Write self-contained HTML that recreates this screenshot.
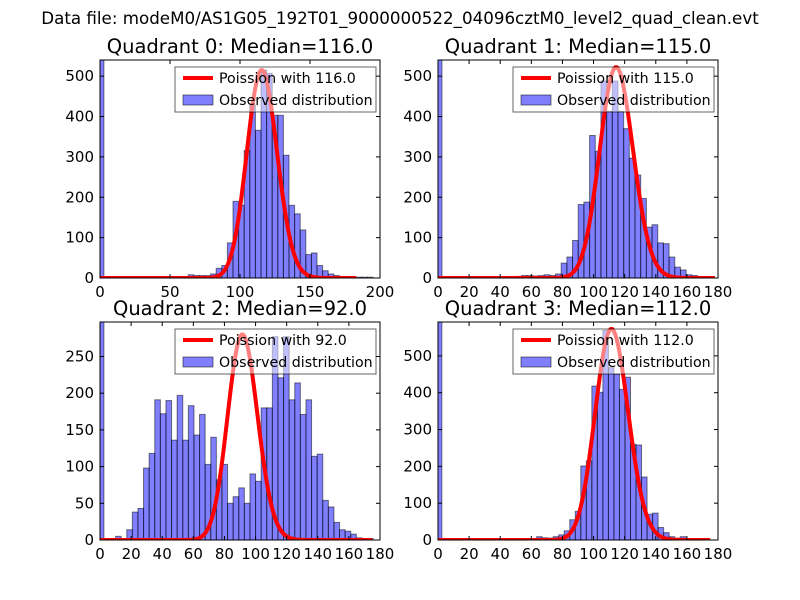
<!DOCTYPE html>
<html><head><meta charset="utf-8">
<style>
body{margin:0;background:#fff;}
svg{display:block;font-family:"DejaVu Sans","Liberation Sans",sans-serif;}
</style></head>
<body>
<svg id="fig" width="800" height="600" viewBox="0 0 800 600" xmlns="http://www.w3.org/2000/svg">
<rect width="800" height="600" fill="#fff"/>
<text x="400" y="24" font-size="16.7" text-anchor="middle">Data file: modeM0/AS1G05_192T01_9000000522_04096cztM0_level2_quad_clean.evt</text>
</svg>
<script>
// ---- data ----
const titles = ["Quadrant 0: Median=116.0","Quadrant 1: Median=115.0","Quadrant 2: Median=92.0","Quadrant 3: Median=112.0"];
const medians = [116, 115, 92, 112];
const curvePeaks = [515, 522, 280, 573];
const curveEnds = [183, 178, 175, 175];
const xMaxes = [200, 180, 180, 180];
const yMaxes = [540, 540, 297, 592];
const xTickLabels0 = [0, 50, 100, 150, 200];
const xTickLabels = [0, 20, 40, 60, 80, 100, 120, 140, 160, 180];
const yTicks01 = [0, 100, 200, 300, 400, 500];
const yTicks2 = [0, 50, 100, 150, 200, 250];
const binStarts = [63, 50, 10, 63.4];
const binWidths = [4, 3.65, 3.6, 3.55];
const zeroBins = [3000, 3000, 3000, 3000];
const counts0 = [8,6,6,6,10,24,31,87,190,180,316,428,366,515,507,403,403,304,180,159,119,58,62,31,18,10,6,2,2,2,2,2,2];
const counts1 = [4,6,6,5,6,8,6,10,37,52,93,182,188,353,314,488,413,488,413,370,297,255,197,126,132,87,85,52,27,20,8,6,2,2,2];
const counts2 = [5,2,14,38,43,98,118,191,172,190,136,197,136,183,143,171,103,140,82,103,50,59,71,50,90,80,180,180,277,221,277,191,214,171,191,114,117,54,45,24,14,12,8,3,2,2];
const counts3 = [9,6,5,9,14,25,55,78,201,215,418,401,569,468,450,409,442,260,258,171,70,73,34,20,9,5,9,2,2,2];
const allCounts = [counts0, counts1, counts2, counts3];
const legendLabels = ["Poission with 116.0","Poission with 115.0","Poission with 92.0","Poission with 112.0"];

const NS = "http://www.w3.org/2000/svg";
const fig = document.getElementById('fig');
const axPos = [[100,60],[438,60],[100,322],[438,322]];
const W = 280, H = 218;
function mk(tag, attrs, parent){const e=document.createElementNS(NS,tag);for(const k in attrs)e.setAttribute(k,attrs[k]);(parent||fig).appendChild(e);return e;}
function lgamma(n){let s=0;for(let i=2;i<=n;i++)s+=Math.log(i);return s;}
function pois(k,m){return Math.exp(k*Math.log(m)-m-lgamma(k));}

for(let q=0;q<4;q++){
  const [ox,oy]=axPos[q];
  const xs=v=>ox+v/xMaxes[q]*W;
  const ys=v=>oy+H-v/yMaxes[q]*H;
  const g=mk('g',{});
  
  
  const cid='clip'+q;
  const cp=mk('clipPath',{id:cid},g);
  mk('rect',{x:ox,y:oy,width:W,height:H},cp);
  const plot=mk('g',{'clip-path':'url(#'+cid+')'},g);
  // zero bin
  const zb=mk('rect',{x:xs(0),y:ys(zeroBins[q]),width:xs(binWidths[q]*0.7)-xs(0),height:ys(0)-ys(zeroBins[q]),fill:'rgba(0,0,255,0.5)',stroke:'rgba(0,0,0,0.5)','stroke-width':1},plot);
  
  
  // histogram bars
  const cs=allCounts[q];
  cs.forEach((c,i)=>{
    const x0=binStarts[q]+i*binWidths[q];
    const r=mk('rect',{x:xs(x0),y:ys(c),width:xs(x0+binWidths[q])-xs(x0),height:ys(0)-ys(c),fill:'rgba(0,0,255,0.5)',stroke:'rgba(0,0,0,0.5)','stroke-width':1},plot);
    
    
  });
  // poisson curve (on top)
  const m=medians[q];const pk=pois(Math.round(m),m);
  let d='';
  for(let k=0;k<=curveEnds[q];k++){const v=pois(k,m)/pk*curvePeaks[q];d+=(k?'L':'M')+xs(k).toFixed(2)+','+ys(v).toFixed(2);}
  const line=mk('path',{d:d,fill:'none',stroke:'#ff0000','stroke-width':4,'stroke-linejoin':'round'},plot);
  
  
  // frame
  mk('rect',{x:ox,y:oy,width:W,height:H,fill:'none',stroke:'#000','stroke-width':1},g);
  // x ticks
  const xt=q===0?xTickLabels0:xTickLabels;
  xt.forEach(v=>{
    const x=xs(v);
    mk('line',{x1:x,x2:x,y1:oy+H,y2:oy+H-4,stroke:'#000'},g);
    mk('line',{x1:x,x2:x,y1:oy,y2:oy+4,stroke:'#000'},g);
    const t=mk('text',{x:x,y:oy+H+19,'font-size':15,'text-anchor':'middle'},g);
    t.textContent=v;
    
    
  });
  // y ticks
  const yt=q===2?yTicks2:yTicks01;
  yt.forEach(v=>{
    const y=ys(v);
    mk('line',{x1:ox,x2:ox+4,y1:y,y2:y,stroke:'#000'},g);
    mk('line',{x1:ox+W,x2:ox+W-4,y1:y,y2:y,stroke:'#000'},g);
    const t=mk('text',{x:ox-6,y:y+5,'font-size':15,'text-anchor':'end'},g);
    t.textContent=v;
    
    
  });
  // title
  const tt=mk('text',{x:ox+W/2,y:oy-7,'font-size':19.5,'text-anchor':'middle'},g);
  tt.textContent=titles[q];
  
  
  // legend (semi-transparent)
  const lg=mk('g',{},g);
  
  
  mk('rect',{x:ox+75,y:oy+7,width:201,height:45,fill:'rgba(255,255,255,0.5)',stroke:'rgba(0,0,0,0.6)','stroke-width':1},lg);
  mk('line',{x1:ox+83,x2:ox+113,y1:oy+18,y2:oy+18,stroke:'#ff0000','stroke-width':4},lg);
  const l1=mk('text',{x:ox+119,y:oy+23,'font-size':14.2},lg);
  l1.textContent=legendLabels[q];
  
  
  mk('rect',{x:ox+83,y:oy+35,width:30,height:10,fill:'rgba(0,0,255,0.5)',stroke:'rgba(0,0,0,0.5)'},lg);
  const l2=mk('text',{x:ox+119,y:oy+45,'font-size':14.2},lg);
  l2.textContent='Observed distribution';
  
  
}
</script>
</body></html>
